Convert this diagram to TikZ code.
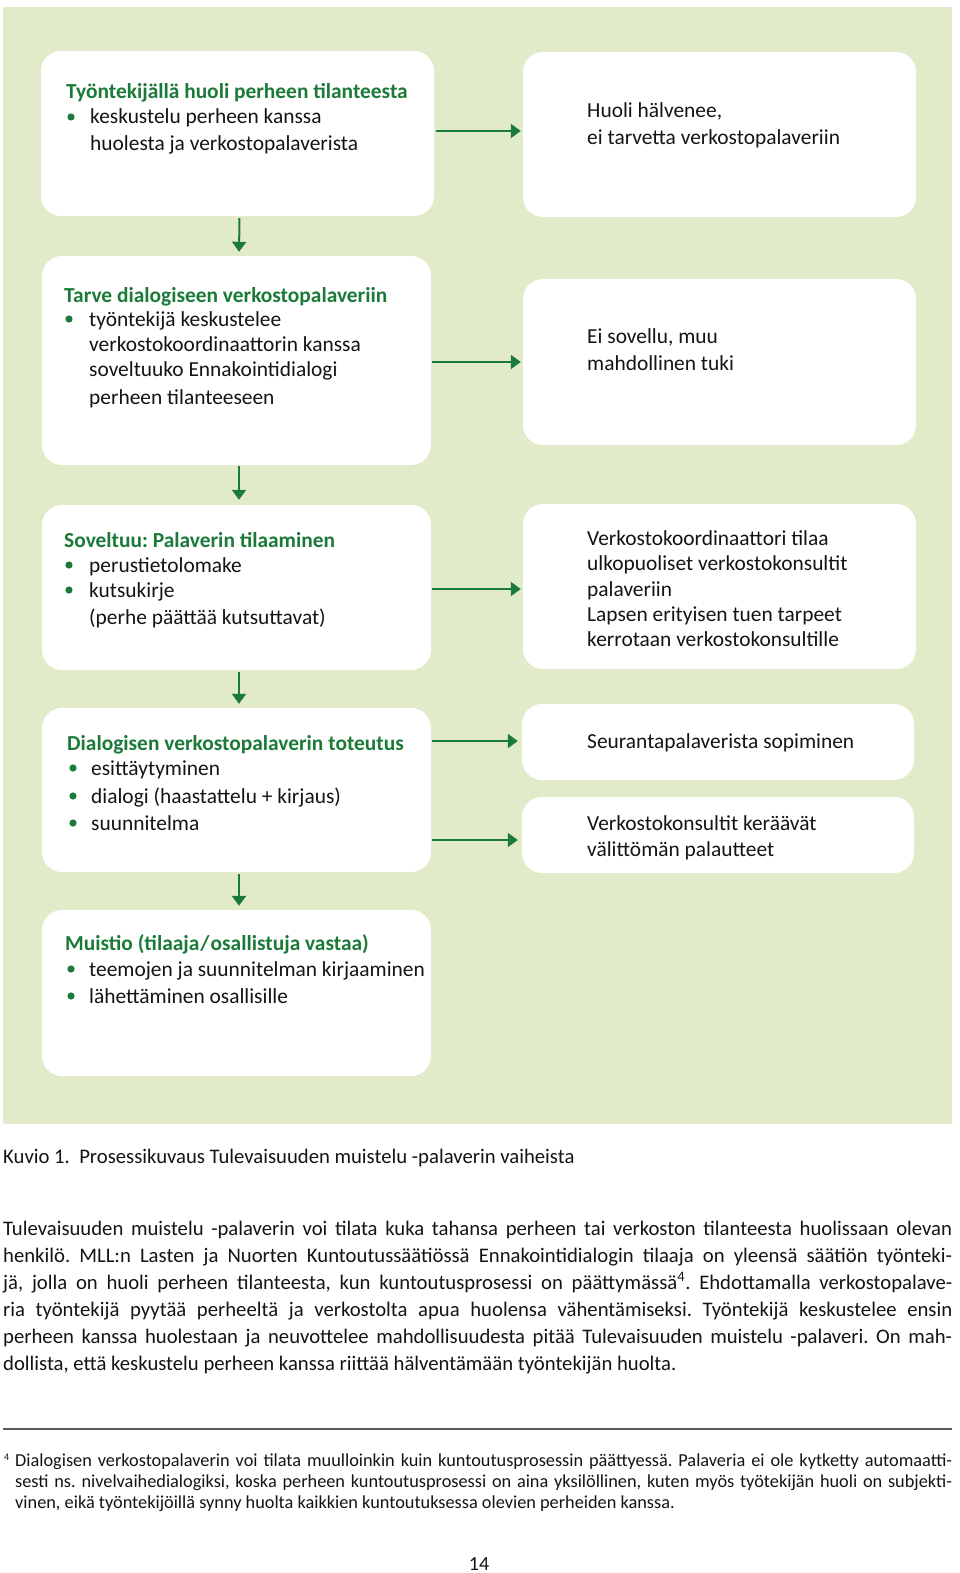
\documentclass[tikz,border=0pt]{standalone}
\usepackage{fontspec}
\setmainfont{Carlito}
\usetikzlibrary{arrows.meta}
\definecolor{bggreen}{RGB}{226,235,201}
\definecolor{dkgreen}{RGB}{27,122,56}
\definecolor{txt}{RGB}{20,20,20}
\tikzset{
  box/.style={fill=white, rounded corners=20pt, inner sep=0pt, draw=none},
  ttl/.style={anchor=base west, inner sep=0pt, text=dkgreen, font=\bfseries\fontsize{21.4}{25}\selectfont},
  ln/.style={anchor=base west, inner sep=0pt, text=txt, font=\fontsize{21.4}{25}\selectfont},
  bul/.style={fill=dkgreen},
  arr/.style={draw=dkgreen, line width=2pt, -{Triangle[width=14pt,length=10pt]}},
  body/.style={anchor=base west, inner sep=0pt, text=txt, font=\fontsize{20.7}{27}\selectfont},
  fnote/.style={anchor=base west, inner sep=0pt, text=txt, font=\fontsize{18.3}{21}\selectfont},
}
\begin{document}
\frenchspacing
\begin{tikzpicture}[x=1pt,y=-1pt]
\useasboundingbox (0,0) rectangle (960,1573);
\fill[white] (0,0) rectangle (960,1573);
\fill[bggreen] (3,7) rectangle (952,1124);

% left boxes
\node[box, minimum width=393pt, minimum height=165pt] (b1) at (237.5,133.5) {};
\node[box, minimum width=389pt, minimum height=209pt] (b2) at (236.5,360.5) {};
\node[box, minimum width=389pt, minimum height=165pt] (b3) at (236.5,587.5) {};
\node[box, minimum width=389pt, minimum height=164pt] (b4) at (236.5,790) {};
\node[box, minimum width=389pt, minimum height=166pt] (b5) at (236.5,993) {};
% right boxes
\node[box, minimum width=393pt, minimum height=165pt] (r1) at (719.5,134.5) {};
\node[box, minimum width=393pt, minimum height=166pt] (r2) at (719.5,362) {};
\node[box, minimum width=393pt, minimum height=165pt] (r3) at (719.5,586.5) {};
\node[box, minimum width=392pt, minimum height=76pt] (r4a) at (718,742) {};
\node[box, minimum width=392pt, minimum height=76pt] (r4b) at (718,835) {};

% horizontal arrows
\draw[arr, shorten <=2pt, shorten >=2pt] (b1.east |- 0,131) -- (r1.west |- 0,131);
\draw[arr, shorten <=1pt, shorten >=2pt] (b2.east |- r2.west) -- (r2.west);
\draw[arr, shorten <=1pt, shorten >=2pt] (b3.east |- 0,589) -- (r3.west |- 0,589);
\draw[arr, shorten <=1pt, shorten >=4pt] (b4.east |- 0,741) -- (r4a.west |- 0,741);
\draw[arr, shorten <=1pt, shorten >=4pt] (b4.east |- 0,840) -- (r4b.west |- 0,840);
% vertical arrows
\draw[arr, shorten <=2pt, shorten >=4pt] ([xshift=2pt]b1.south) -- ([xshift=2.5pt]b2.north);
\draw[arr, shorten <=1pt, shorten >=5pt] ([xshift=2.5pt]b2.south) -- ([xshift=2.5pt]b3.north);
\draw[arr, shorten <=2pt, shorten >=4pt] ([xshift=2.5pt]b3.south) -- ([xshift=2.5pt]b4.north);
\draw[arr, shorten <=2pt, shorten >=4pt] ([xshift=2.5pt]b4.south) -- ([xshift=2.5pt]b5.north);

\begin{scope}[shift={(1,2)}]
% box 1
\node[ttl] (t1) at (65,97) {Työntekijällä huoli perheen tilanteesta};
\fill[bul] (70,115) circle (3.6pt);
\node[ln] (t1a) at (89,122) {keskustelu perheen kanssa};
\node[ln] (t1b) at (89,149) {huolesta ja verkostopalaverista};
% box 2
\node[ttl] (t2) at (63,300) {Tarve dialogiseen verkostopalaveriin};
\fill[bul] (68,317) circle (3.6pt);
\node[ln] (t2a) at (88,324) {työntekijä keskustelee};
\node[ln] (t2b) at (88,349) {verkostokoordinaattorin kanssa};
\node[ln] (t2c) at (88,374) {soveltuuko Ennakointidialogi};
\node[ln] (t2d) at (88,402) {perheen tilanteeseen};
% box 3
\node[ttl] (t3) at (63,545) {Soveltuu: Palaverin tilaaminen};
\fill[bul] (68,563) circle (3.6pt);
\fill[bul] (68,588) circle (3.6pt);
\node[ln] (t3a) at (88,570) {perustietolomake};
\node[ln] (t3b) at (88,595) {kutsukirje};
\node[ln] (t3c) at (88,622) {(perhe päättää kutsuttavat)};
% box 4
\node[ttl] (t4) at (66,748) {Dialogisen verkostopalaverin toteutus};
\fill[bul] (72,766) circle (3.6pt);
\fill[bul] (72,794) circle (3.6pt);
\fill[bul] (72,821) circle (3.6pt);
\node[ln] (t4a) at (90,773) {esittäytyminen};
\node[ln] (t4b) at (90,801) {dialogi (haastattelu + kirjaus)};
\node[ln] (t4c) at (90,828) {suunnitelma};
% box 5
\node[ttl] (t5) at (64,948) {Muistio (tilaaja\kern1pt/\kern1pt osallistuja vastaa)};
\fill[bul] (70,967) circle (3.6pt);
\fill[bul] (70,994) circle (3.6pt);
\node[ln] (t5a) at (88,974) {teemojen ja suunnitelman kirjaaminen};
\node[ln] (t5b) at (88,1001) {lähettäminen osallisille};

% right texts
\node[ln] (s1a) at (586,116) {Huoli hälvenee,};
\node[ln] (s1b) at (586,143) {ei tarvetta verkostopalaveriin};
\node[ln] (s2a) at (586,341) {Ei sovellu, muu};
\node[ln] (s2b) at (586,368) {mahdollinen tuki};
\node[ln] (s3a) at (586,543) {Verkostokoordinaattori tilaa};
\node[ln] (s3b) at (586,568) {ulkopuoliset verkostokonsultit};
\node[ln] (s3c) at (586,594) {palaveriin};
\node[ln] (s3d) at (586,619) {Lapsen erityisen tuen tarpeet};
\node[ln] (s3e) at (586,644) {kerrotaan verkostokonsultille};
\node[ln] (s4a) at (586,746) {Seurantapalaverista sopiminen};
\node[ln] (s5a) at (586,828) {Verkostokonsultit keräävät};
\node[ln] (s5b) at (586,854) {välittömän palautteet};
\end{scope}

\begin{scope}[shift={(0,5)}]
% caption
\node[body] (cap) at (3,1158) {Kuvio 1.\ \ Prosessikuvaus Tulevaisuuden muistelu -palaverin vaiheista};

% body paragraph
\node[body] (p1) at (3,1230) {\makebox[949pt][s]{Tulevaisuuden muistelu -palaverin voi tilata kuka tahansa perheen tai verkoston tilanteesta huolissaan olevan}};
\node[body] (p2) at (3,1257) {\makebox[949pt][s]{henkilö. MLL:n Lasten ja Nuorten Kuntoutussäätiössä Ennakointidialogin tilaaja on yleensä säätiön työnteki-}};
\node[body] (p3) at (3,1284) {\makebox[949pt][s]{jä, jolla on huoli perheen tilanteesta, kun kuntoutusprosessi on päättymässä\textsuperscript{4}. Ehdottamalla verkostopalave-}};
\node[body] (p4) at (3,1311) {\makebox[949pt][s]{ria työntekijä pyytää perheeltä ja verkostolta apua huolensa vähentämiseksi. Työntekijä keskustelee ensin}};
\node[body] (p5) at (3,1338) {\makebox[949pt][s]{perheen kanssa huolestaan ja neuvottelee mahdollisuudesta pitää Tulevaisuuden muistelu -palaveri. On mah-}};
\node[body] (p6) at (3,1365) {dollista, että keskustelu perheen kanssa riittää hälventämään työntekijän huolta.};

% footnote
\node[fnote, font=\fontsize{10}{12}\selectfont] (fnm) at (4,1455) {4};
\node[fnote] (f1) at (15,1461) {\makebox[937pt][s]{Dialogisen verkostopalaverin voi tilata muulloinkin kuin kuntoutusprosessin päättyessä. Palaveria ei ole kytketty automaatti-}};
\node[fnote] (f2) at (15,1482) {\makebox[937pt][s]{sesti ns. nivelvaihedialogiksi, koska perheen kuntoutusprosessi on aina yksilöllinen, kuten myös työtekijän huoli on subjekti-}};
\node[fnote] (f3) at (15,1503) {vinen, eikä työntekijöillä synny huolta kaikkien kuntoutuksessa olevien perheiden kanssa.};

% page number
\node[anchor=base, inner sep=0pt, text=txt, font=\fontsize{20}{22}\selectfont] (pg) at (479,1565) {14};
\end{scope}
\draw[draw={rgb,255:red,90;green,90;blue,90}, line width=1.2pt] (3,1429) -- (952,1429);
\end{tikzpicture}
\end{document}
